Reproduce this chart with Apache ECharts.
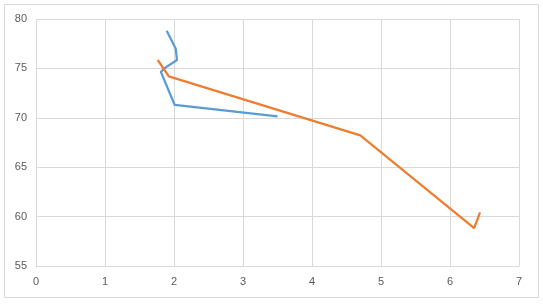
<!DOCTYPE html>
<html><head><meta charset="utf-8">
<script src="https://cdn.jsdelivr.net/npm/echarts@6/dist/echarts.min.js"></script>
<style>html,body{margin:0;padding:0;background:#fff}#c{width:543px;height:304px}</style>
</head><body><div id="c"></div>
<script>
const blueX = [1.894, 2.025, 2.043, 1.87, 1.81, 2.01, 3.50];
const blueY = [78.8, 77.0, 75.85, 75.05, 74.65, 71.3, 70.15];
const orangeX = [1.764, 1.925, 4.70, 6.35, 6.435];
const orangeY = [75.85, 74.2, 68.22, 58.84, 60.42];
const xTicks = [0, 1, 2, 3, 4, 5, 6, 7];
const yTicks = [55, 60, 65, 70, 75, 80];

const zip = (a, b) => a.map((v, i) => [v, b[i]]);
const chart = echarts.init(document.getElementById('c'), null, {renderer: 'canvas'});
chart.setOption({
  animation: false,
  backgroundColor: '#fff',
  graphic: [{type: 'rect', shape: {x: 4.5, y: 4.5, width: 534, height: 293}, style: {fill: 'none', stroke: '#D9D9D9', lineWidth: 1}, silent: true}],
  grid: {left: 36, right: 24, top: 19, bottom: 38, containLabel: false},
  xAxis: {
    type: 'value', min: xTicks[0], max: xTicks[xTicks.length - 1], interval: 1,
    axisLine: {show: true, lineStyle: {color: '#D9D9D9'}},
    axisTick: {show: false},
    splitLine: {show: true, lineStyle: {color: '#D9D9D9'}},
    axisLabel: {color: '#595959', fontSize: 11, fontFamily: 'Liberation Sans, Arial', margin: 10}
  },
  yAxis: {
    type: 'value', min: yTicks[0], max: yTicks[yTicks.length - 1], interval: 5,
    axisLine: {show: false},
    axisTick: {show: false},
    splitLine: {show: true, lineStyle: {color: '#D9D9D9'}},
    axisLabel: {color: '#595959', fontSize: 11, fontFamily: 'Liberation Sans, Arial', margin: 9}
  },
  series: [
    {type: 'line', data: zip(blueX, blueY), showSymbol: false, lineStyle: {color: '#5B9BD5', width: 2.25}, itemStyle: {color: '#5B9BD5'}},
    {type: 'line', data: zip(orangeX, orangeY), showSymbol: false, lineStyle: {color: '#ED7D31', width: 2.25}, itemStyle: {color: '#ED7D31'}}
  ]
});
</script></body></html>
